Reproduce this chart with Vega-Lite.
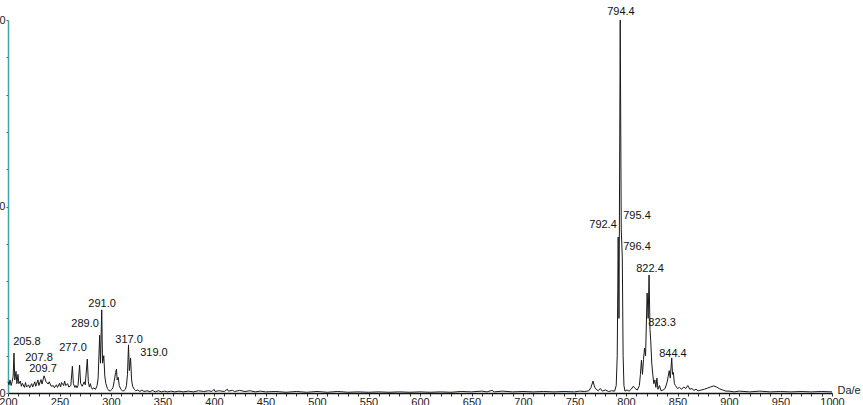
{
  "$schema": "https://vega.github.io/schema/vega-lite/v6.json",
  "width": 824,
  "height": 373,
  "autosize": {"type": "none"},
  "padding": {"left": 8, "top": 20, "right": 31, "bottom": 12},
  "background": "white",
  "config": {
    "view": {"stroke": null},
    "font": "Liberation Sans",
    "axis": {"grid": false, "labelFont": "Liberation Sans", "titleFont": "Liberation Sans"}
  },
  "datasets": {
    "spectrum": [
      {"mz": 200, "intensity": 3.0}, {"mz": 201, "intensity": 2.2}, {"mz": 202, "intensity": 3.5}, {"mz": 203, "intensity": 2.0},
      {"mz": 204, "intensity": 3.0}, {"mz": 205, "intensity": 4.5}, {"mz": 205.8, "intensity": 10.7}, {"mz": 206.6, "intensity": 3.5},
      {"mz": 207.8, "intensity": 5.8}, {"mz": 208.6, "intensity": 2.5}, {"mz": 209.7, "intensity": 5.0}, {"mz": 210.5, "intensity": 2.5},
      {"mz": 212, "intensity": 3.2}, {"mz": 213, "intensity": 1.8}, {"mz": 214, "intensity": 2.6}, {"mz": 216, "intensity": 1.5},
      {"mz": 217, "intensity": 2.8}, {"mz": 218, "intensity": 1.6}, {"mz": 220, "intensity": 2.2}, {"mz": 221, "intensity": 1.4},
      {"mz": 223, "intensity": 2.5}, {"mz": 224, "intensity": 1.6}, {"mz": 226, "intensity": 3.0}, {"mz": 227, "intensity": 1.8},
      {"mz": 229, "intensity": 3.5}, {"mz": 230, "intensity": 2.0}, {"mz": 232, "intensity": 3.6}, {"mz": 233, "intensity": 2.4},
      {"mz": 235, "intensity": 4.6}, {"mz": 236, "intensity": 3.8}, {"mz": 237, "intensity": 3.0}, {"mz": 239, "intensity": 2.4},
      {"mz": 240, "intensity": 3.0}, {"mz": 242, "intensity": 1.8}, {"mz": 244, "intensity": 2.0}, {"mz": 245, "intensity": 1.4},
      {"mz": 247, "intensity": 2.2}, {"mz": 248, "intensity": 1.5}, {"mz": 250, "intensity": 2.6}, {"mz": 251, "intensity": 1.6},
      {"mz": 252, "intensity": 2.8}, {"mz": 254, "intensity": 2.0}, {"mz": 255, "intensity": 3.2}, {"mz": 256, "intensity": 2.0},
      {"mz": 258, "intensity": 2.5}, {"mz": 259, "intensity": 1.6}, {"mz": 261, "intensity": 2.0}, {"mz": 262.5, "intensity": 7.2},
      {"mz": 263.5, "intensity": 2.5}, {"mz": 265, "intensity": 1.5}, {"mz": 266, "intensity": 2.0}, {"mz": 267, "intensity": 1.4},
      {"mz": 268, "intensity": 2.0}, {"mz": 269.5, "intensity": 7.5}, {"mz": 270.5, "intensity": 2.6}, {"mz": 272, "intensity": 1.8},
      {"mz": 273, "intensity": 2.4}, {"mz": 274, "intensity": 3.0}, {"mz": 275, "intensity": 2.2}, {"mz": 277.0, "intensity": 9.1},
      {"mz": 278, "intensity": 3.0}, {"mz": 279, "intensity": 1.6}, {"mz": 280, "intensity": 2.5}, {"mz": 281, "intensity": 1.4},
      {"mz": 282, "intensity": 1.0}, {"mz": 283, "intensity": 1.4}, {"mz": 285, "intensity": 1.0}, {"mz": 286.5, "intensity": 2.0},
      {"mz": 287.5, "intensity": 4.0}, {"mz": 289.0, "intensity": 15.5}, {"mz": 289.8, "intensity": 8.0}, {"mz": 291.0, "intensity": 22.3},
      {"mz": 291.8, "intensity": 8.0}, {"mz": 293, "intensity": 10.0}, {"mz": 294, "intensity": 4.5}, {"mz": 295, "intensity": 2.5},
      {"mz": 296.5, "intensity": 1.2}, {"mz": 298, "intensity": 0.6}, {"mz": 299.5, "intensity": 0.6}, {"mz": 301, "intensity": 1.0},
      {"mz": 302, "intensity": 1.5}, {"mz": 303, "intensity": 3.0}, {"mz": 304.5, "intensity": 5.5}, {"mz": 305.3, "intensity": 6.4},
      {"mz": 306, "intensity": 3.5}, {"mz": 307, "intensity": 4.2}, {"mz": 308, "intensity": 2.0}, {"mz": 309.5, "intensity": 1.0},
      {"mz": 311, "intensity": 0.6}, {"mz": 312.5, "intensity": 0.6}, {"mz": 314, "intensity": 1.0}, {"mz": 315, "intensity": 2.0},
      {"mz": 316, "intensity": 5.0}, {"mz": 317.0, "intensity": 12.9}, {"mz": 317.8, "intensity": 6.0}, {"mz": 319.0, "intensity": 9.4},
      {"mz": 320, "intensity": 3.5}, {"mz": 321, "intensity": 1.8}, {"mz": 322.5, "intensity": 1.0}, {"mz": 324, "intensity": 0.6},
      {"mz": 326, "intensity": 0.8}, {"mz": 328, "intensity": 0.4}, {"mz": 330, "intensity": 0.8}, {"mz": 332, "intensity": 0.4},
      {"mz": 335, "intensity": 0.6}, {"mz": 338, "intensity": 0.3}, {"mz": 340, "intensity": 0.7}, {"mz": 343, "intensity": 0.3},
      {"mz": 346, "intensity": 0.6}, {"mz": 349, "intensity": 0.3}, {"mz": 352, "intensity": 0.5}, {"mz": 355, "intensity": 0.3},
      {"mz": 358, "intensity": 0.5}, {"mz": 362, "intensity": 0.3}, {"mz": 366, "intensity": 0.5}, {"mz": 370, "intensity": 0.3},
      {"mz": 375, "intensity": 0.5}, {"mz": 380, "intensity": 0.3}, {"mz": 385, "intensity": 0.6}, {"mz": 390, "intensity": 0.4},
      {"mz": 395, "intensity": 0.6}, {"mz": 398, "intensity": 0.4}, {"mz": 400, "intensity": 1.0}, {"mz": 401, "intensity": 0.4},
      {"mz": 405, "intensity": 0.6}, {"mz": 410, "intensity": 0.4}, {"mz": 413, "intensity": 1.0}, {"mz": 414, "intensity": 0.5},
      {"mz": 418, "intensity": 0.7}, {"mz": 420, "intensity": 0.4}, {"mz": 425, "intensity": 0.7}, {"mz": 430, "intensity": 0.4},
      {"mz": 435, "intensity": 0.6}, {"mz": 440, "intensity": 0.3}, {"mz": 445, "intensity": 0.5}, {"mz": 450, "intensity": 0.3},
      {"mz": 460, "intensity": 0.4}, {"mz": 470, "intensity": 0.2}, {"mz": 480, "intensity": 0.4}, {"mz": 490, "intensity": 0.2},
      {"mz": 500, "intensity": 0.4}, {"mz": 510, "intensity": 0.2}, {"mz": 520, "intensity": 0.4}, {"mz": 530, "intensity": 0.2},
      {"mz": 540, "intensity": 0.3}, {"mz": 550, "intensity": 0.2}, {"mz": 560, "intensity": 0.3}, {"mz": 570, "intensity": 0.2},
      {"mz": 580, "intensity": 0.3}, {"mz": 590, "intensity": 0.2}, {"mz": 600, "intensity": 0.3}, {"mz": 610, "intensity": 0.2},
      {"mz": 620, "intensity": 0.3}, {"mz": 630, "intensity": 0.2}, {"mz": 640, "intensity": 0.4}, {"mz": 650, "intensity": 0.3},
      {"mz": 660, "intensity": 0.5}, {"mz": 665, "intensity": 0.3}, {"mz": 670, "intensity": 0.7}, {"mz": 672, "intensity": 0.3},
      {"mz": 680, "intensity": 0.5}, {"mz": 690, "intensity": 0.3}, {"mz": 700, "intensity": 0.4}, {"mz": 710, "intensity": 0.3},
      {"mz": 720, "intensity": 0.4}, {"mz": 730, "intensity": 0.3}, {"mz": 740, "intensity": 0.4}, {"mz": 750, "intensity": 0.3},
      {"mz": 755, "intensity": 0.5}, {"mz": 760, "intensity": 0.4}, {"mz": 764, "intensity": 0.6}, {"mz": 766, "intensity": 1.5},
      {"mz": 768, "intensity": 3.2}, {"mz": 769.5, "intensity": 1.6}, {"mz": 771, "intensity": 1.0}, {"mz": 773, "intensity": 0.6},
      {"mz": 775, "intensity": 1.2}, {"mz": 777, "intensity": 0.5}, {"mz": 780, "intensity": 0.8}, {"mz": 783, "intensity": 0.4},
      {"mz": 786, "intensity": 0.6}, {"mz": 789, "intensity": 0.5}, {"mz": 790.5, "intensity": 2.0}, {"mz": 791.5, "intensity": 10},
      {"mz": 792.4, "intensity": 41.8}, {"mz": 793.2, "intensity": 20}, {"mz": 794.4, "intensity": 100}, {"mz": 795.4, "intensity": 43.7},
      {"mz": 796.4, "intensity": 36.5}, {"mz": 797.2, "intensity": 10}, {"mz": 798, "intensity": 2.0}, {"mz": 799, "intensity": 0.5},
      {"mz": 801, "intensity": 0.8}, {"mz": 803, "intensity": 0.5}, {"mz": 805, "intensity": 1.0}, {"mz": 807, "intensity": 1.8},
      {"mz": 809, "intensity": 1.2}, {"mz": 811, "intensity": 0.8}, {"mz": 813, "intensity": 2.0}, {"mz": 814, "intensity": 5.0},
      {"mz": 815, "intensity": 8.8}, {"mz": 816, "intensity": 5.0}, {"mz": 817, "intensity": 9.0}, {"mz": 818, "intensity": 12.0},
      {"mz": 819, "intensity": 10.0}, {"mz": 820.5, "intensity": 26.8}, {"mz": 821.5, "intensity": 20.0}, {"mz": 822.4, "intensity": 31.6},
      {"mz": 823.3, "intensity": 17.0}, {"mz": 824, "intensity": 14}, {"mz": 825, "intensity": 8.0}, {"mz": 826, "intensity": 5.0},
      {"mz": 827, "intensity": 2.5}, {"mz": 828, "intensity": 3.5}, {"mz": 829, "intensity": 1.5}, {"mz": 830, "intensity": 4.0},
      {"mz": 831, "intensity": 1.0}, {"mz": 832.5, "intensity": 2.0}, {"mz": 834, "intensity": 0.6}, {"mz": 836, "intensity": 0.8},
      {"mz": 838, "intensity": 1.2}, {"mz": 840, "intensity": 3.0}, {"mz": 841, "intensity": 4.5}, {"mz": 842, "intensity": 6.0},
      {"mz": 843, "intensity": 4.0}, {"mz": 844.4, "intensity": 9.4}, {"mz": 845.2, "intensity": 5.0}, {"mz": 846, "intensity": 5.5},
      {"mz": 847, "intensity": 2.5}, {"mz": 848, "intensity": 2.0}, {"mz": 850, "intensity": 1.2}, {"mz": 852, "intensity": 1.5},
      {"mz": 854, "intensity": 1.0}, {"mz": 856, "intensity": 1.6}, {"mz": 858, "intensity": 1.2}, {"mz": 860, "intensity": 2.0},
      {"mz": 862, "intensity": 1.0}, {"mz": 864, "intensity": 1.2}, {"mz": 866, "intensity": 0.7}, {"mz": 868, "intensity": 1.0},
      {"mz": 870, "intensity": 0.6}, {"mz": 873, "intensity": 0.8}, {"mz": 876, "intensity": 1.0}, {"mz": 879, "intensity": 1.3},
      {"mz": 882, "intensity": 1.6}, {"mz": 885, "intensity": 1.9}, {"mz": 888, "intensity": 1.6}, {"mz": 891, "intensity": 1.1},
      {"mz": 894, "intensity": 0.8}, {"mz": 897, "intensity": 0.5}, {"mz": 900, "intensity": 0.5}, {"mz": 905, "intensity": 0.3},
      {"mz": 910, "intensity": 0.5}, {"mz": 920, "intensity": 0.3}, {"mz": 930, "intensity": 0.5}, {"mz": 940, "intensity": 0.3},
      {"mz": 950, "intensity": 0.4}, {"mz": 960, "intensity": 0.3}, {"mz": 970, "intensity": 0.4}, {"mz": 980, "intensity": 0.3},
      {"mz": 990, "intensity": 0.4}, {"mz": 1000, "intensity": 0.3}
    ],
    "labels": [
      {"label": "205.8", "lx": 218.4, "ly": 13.7},
      {"label": "207.8", "lx": 230.1, "ly": 9.4},
      {"label": "209.7", "lx": 234.0, "ly": 6.4},
      {"label": "277.0", "lx": 263.1, "ly": 12.1},
      {"label": "289.0", "lx": 274.8, "ly": 18.5},
      {"label": "291.0", "lx": 291.3, "ly": 23.9},
      {"label": "317.0", "lx": 317.5, "ly": 14.2},
      {"label": "319.0", "lx": 341.7, "ly": 10.7},
      {"label": "794.4", "lx": 795.1, "ly": 102.1},
      {"label": "792.4", "lx": 777.7, "ly": 45.0},
      {"label": "795.4", "lx": 810.7, "ly": 47.5},
      {"label": "796.4", "lx": 810.7, "ly": 39.1},
      {"label": "822.4", "lx": 823.3, "ly": 33.2},
      {"label": "823.3", "lx": 835.0, "ly": 18.8},
      {"label": "844.4", "lx": 845.6, "ly": 10.5}
    ]
  },
  "layer": [
    {
      "data": {"name": "spectrum"},
      "mark": {"type": "line", "stroke": "#1a1a1a", "strokeWidth": 1, "interpolate": "linear"},
      "encoding": {
        "x": {
          "field": "mz", "type": "quantitative",
          "scale": {"domain": [200, 1000], "nice": false, "zero": false},
          "axis": {
            "values": [200,210,220,230,240,250,260,270,280,290,300,310,320,330,340,350,360,370,380,390,400,410,420,430,440,450,460,470,480,490,500,510,520,530,540,550,560,570,580,590,600,610,620,630,640,650,660,670,680,690,700,710,720,730,740,750,760,770,780,790,800,810,820,830,840,850,860,870,880,890,900,910,920,930,940,950,960,970,980,990,1000],
            "tickCount": 200,
            "labelExpr": "datum.value % 50 === 0 ? datum.label : ''",
            "format": "d",
            "labelFontSize": 11,
            "labelColor": "#222",
            "labelPadding": 0,
            "labelFlush": false,
            "labelOverlap": false,
            "tickSize": 3,
            "tickColor": "#333",
            "domainColor": "#111",
            "domainWidth": 1.5,
            "title": "Da/e",
            "titleFontSize": 11,
            "titleFontWeight": "normal",
            "titleColor": "#222",
            "titleX": 829,
            "titleY": -3,
            "titleAlign": "left",
            "titleBaseline": "middle",
            "titleAnchor": null
          }
        },
        "y": {
          "field": "intensity", "type": "quantitative",
          "scale": {"domain": [0, 100], "nice": false},
          "axis": {
            "values": [0,10,20,30,40,50,60,70,80,90,100],
            "tickCount": 50,
            "labelExpr": "datum.value % 50 === 0 ? datum.label : ''",
            "labelFontSize": 11,
            "labelColor": "#222",
            "labelPadding": 1,
            "labelOverlap": false,
            "tickSize": 2,
            "tickColor": "#555",
            "domainColor": "#3aa7a5",
            "domainWidth": 1.5,
            "title": null
          }
        }
      }
    },
    {
      "data": {"name": "labels"},
      "mark": {"type": "text", "fontSize": 11, "font": "Liberation Sans", "fill": "#111", "align": "center", "baseline": "middle"},
      "encoding": {
        "x": {"field": "lx", "type": "quantitative"},
        "y": {"field": "ly", "type": "quantitative"},
        "text": {"field": "label"}
      }
    }
  ]
}
